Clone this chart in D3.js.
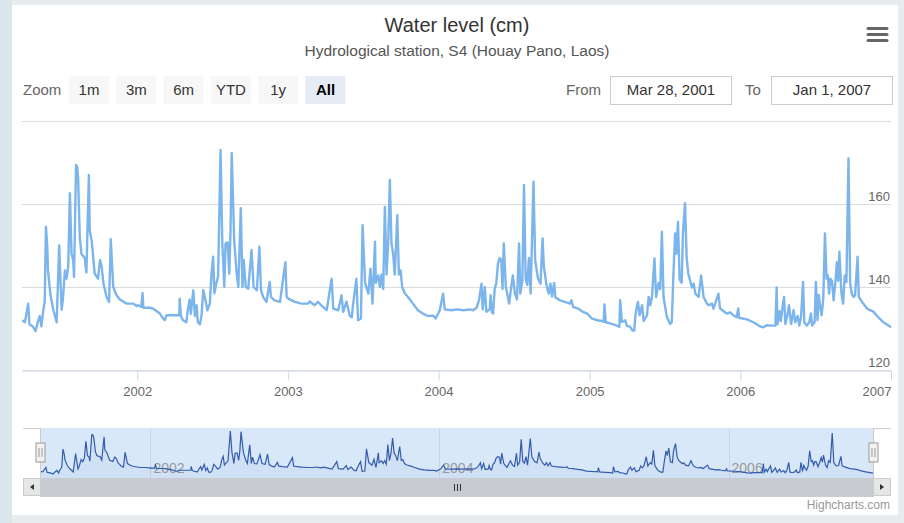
<!DOCTYPE html>
<html>
<head>
<meta charset="utf-8">
<script src="https://cdn.jsdelivr.net/npm/d3@7"></script>
<style>
  html, body { margin: 0; padding: 0; background: #e9ecee; }
  svg { display: block; font-family: "Liberation Sans", Arial, Helvetica, sans-serif; }
</style>
</head>
<body>
<script>
(function () {
  'use strict';

  // ---- data ----
  const chartTitle = "Water level (cm)";
  const chartSubtitle = "Hydrological station, S4 (Houay Pano, Laos)";
  const rangeFrom = "2001-03-28";
  const rangeTo = "2007-01-01";
  const rangeFromLabel = "Mar 28, 2001";
  const rangeToLabel = "Jan 1, 2007";
  const zoomButtons = ["1m", "3m", "6m", "YTD", "1y", "All"];
  const selectedButton = "All";
  const yTicks = [120, 140, 160, 180];
  const xTickYears = [2002, 2003, 2004, 2005, 2006, 2007];
  const navTickYears = [2002, 2004, 2006];

  const level2001 = [["2001-03-28",132],["2001-04-04",131.5],["2001-04-12",136],["2001-04-15",131],["2001-04-23",130.5],["2001-04-30",129.4],["2001-05-05",131.5],["2001-05-10",133],["2001-05-14",130.5],["2001-05-18",134],["2001-05-22",136.5],["2001-05-25",154.5],["2001-05-28",150],["2001-05-30",144],["2001-06-05",138],["2001-06-12",134.4],["2001-06-20",131.5],["2001-06-26",150],["2001-07-02",134.5],["2001-07-05",137],["2001-07-10",144],["2001-07-14",142],["2001-07-18",145],["2001-07-22",162.6],["2001-07-26",148],["2001-07-30",146.5],["2001-08-01",142.4],["2001-08-06",169.4],["2001-08-09",168.8],["2001-08-11",166],["2001-08-15",152],["2001-08-19",148],["2001-08-27",147],["2001-08-31",143.5],["2001-09-06",167],["2001-09-08",153.7],["2001-09-13",151],["2001-09-20",143.3],["2001-09-28",142],["2001-10-03",146.5],["2001-10-07",145],["2001-10-11",141],["2001-10-19",137.6],["2001-10-25",136.4],["2001-10-29",151.5],["2001-11-04",140],["2001-11-12",138],["2001-11-20",137],["2001-12-06",136],["2001-12-22",136],["2001-12-31",135.4]];

  const level2002 = [["2002-01-03",135.6],["2002-01-11",135.2],["2002-01-14",138.5],["2002-01-16",135],["2002-02-01",135],["2002-02-08",134.8],["2002-02-25",133.6],["2002-03-05",132.4],["2002-03-09",132],["2002-03-13",133.2],["2002-03-29",133.2],["2002-04-13",133.2],["2002-04-14",137.2],["2002-04-17",133],["2002-04-22",132],["2002-04-30",131.5],["2002-05-03",134],["2002-05-08",137],["2002-05-11",133.5],["2002-05-17",139.2],["2002-05-21",133],["2002-05-25",135.6],["2002-05-28",131.5],["2002-06-02",131],["2002-06-06",133.2],["2002-06-10",139.2],["2002-06-14",137.6],["2002-06-20",134.4],["2002-06-26",136],["2002-06-30",143.2],["2002-07-04",147.3],["2002-07-07",138.5],["2002-07-12",141],["2002-07-16",142.5],["2002-07-22",173],["2002-07-26",151.3],["2002-07-31",140],["2002-08-03",150.5],["2002-08-08",150.8],["2002-08-12",143.2],["2002-08-15",153],["2002-08-18",172.3],["2002-08-24",151.3],["2002-08-30",143.2],["2002-09-03",140],["2002-09-09",159],["2002-09-13",140],["2002-09-16",146.5],["2002-09-21",140],["2002-09-27",139.6],["2002-10-05",148.9],["2002-10-10",140],["2002-10-18",139.2],["2002-10-24",149.7],["2002-10-28",139.2],["2002-11-02",137.6],["2002-11-10",136.4],["2002-11-18",141.2],["2002-11-21",137.6],["2002-11-30",136.8],["2002-12-13",136.4],["2002-12-26",146],["2002-12-29",137.6]];

  const level2003 = [["2003-01-02",137.2],["2003-01-18",136.4],["2003-02-03",136],["2003-02-19",136],["2003-02-23",136.5],["2003-03-07",135.6],["2003-03-15",136.4],["2003-03-23",135.6],["2003-04-05",134.4],["2003-04-17",142],["2003-04-21",134.8],["2003-05-03",134.4],["2003-05-11",138],["2003-05-15",134],["2003-05-23",136.5],["2003-05-31",133],["2003-06-05",132.7],["2003-06-07",135],["2003-06-16",142],["2003-06-20",132],["2003-06-27",132.4],["2003-07-01",154.9],["2003-07-07",141],["2003-07-15",138.4],["2003-07-20",144.4],["2003-07-25",136],["2003-07-31",150.9],["2003-08-02",141],["2003-08-08",142.8],["2003-08-12",140],["2003-08-16",143],["2003-08-20",139.5],["2003-08-24",159.3],["2003-08-28",143],["2003-09-01",150.5],["2003-09-05",165.8],["2003-09-09",150.5],["2003-09-13",148],["2003-09-17",143],["2003-09-23",157.3],["2003-09-27",143],["2003-10-01",144],["2003-10-05",140],["2003-10-11",138.5],["2003-10-19",137.6],["2003-10-31",136],["2003-11-12",134.4],["2003-11-24",133.6],["2003-12-06",133],["2003-12-19",133.1],["2003-12-25",132.4]];

  const level2004 = [["2004-01-04",134.4],["2004-01-12",138.4],["2004-01-16",134.6],["2004-02-01",134.4],["2004-02-14",134.6],["2004-03-01",134.4],["2004-03-17",134.6],["2004-03-25",134.4],["2004-04-02",135],["2004-04-08",136.8],["2004-04-14",140.8],["2004-04-17",134.6],["2004-04-22",140],["2004-04-26",134],["2004-05-04",134.6],["2004-05-06",138],["2004-05-09",134],["2004-05-12",133.6],["2004-05-16",139.5],["2004-05-20",141],["2004-05-24",145.7],["2004-05-28",147],["2004-06-01",146.5],["2004-06-04",139.5],["2004-06-07",150.5],["2004-06-12",140],["2004-06-20",136],["2004-06-23",138.4],["2004-06-29",142.8],["2004-07-04",138.4],["2004-07-09",137],["2004-07-14",150.5],["2004-07-17",138.4],["2004-07-22",141.5],["2004-07-26",164.6],["2004-07-30",142],["2004-08-03",140.5],["2004-08-07",147],["2004-08-11",138.4],["2004-08-18",165.4],["2004-08-22",146.5],["2004-08-29",142],["2004-09-04",140.8],["2004-09-09",151.7],["2004-09-12",145],["2004-09-18",140.8],["2004-09-22",139],["2004-09-24",138.4],["2004-09-28",140.8],["2004-10-02",137.7],["2004-10-07",141],["2004-10-10",137.5],["2004-10-21",136.8],["2004-11-02",136.4],["2004-11-14",136],["2004-11-18",136.8],["2004-11-22",135.2],["2004-12-04",134.8],["2004-12-16",134],["2004-12-26",133.6]];

  const level2005 = [["2005-01-07",132.4],["2005-01-19",132],["2005-01-31",131.8],["2005-02-04",131.6],["2005-02-06",135.8],["2005-02-09",131.5],["2005-02-24",131.1],["2005-03-08",130.7],["2005-03-14",130.4],["2005-03-16",136.8],["2005-03-20",131.6],["2005-03-28",132],["2005-04-01",130.7],["2005-04-09",130.4],["2005-04-15",129.5],["2005-04-19",129.5],["2005-04-22",133.2],["2005-04-26",135.6],["2005-04-28",136.4],["2005-05-02",133.2],["2005-05-08",135.6],["2005-05-12",131.8],["2005-05-20",133.2],["2005-05-24",137.6],["2005-05-28",135.6],["2005-06-01",137.6],["2005-06-07",146.9],["2005-06-11",137.6],["2005-06-17",141],["2005-06-21",139.5],["2005-06-25",153.3],["2005-06-29",137.6],["2005-07-07",132.8],["2005-07-15",131.1],["2005-07-19",131.5],["2005-07-23",143.2],["2005-07-27",152.9],["2005-07-30",148],["2005-08-03",155.7],["2005-08-07",141.8],["2005-08-12",141],["2005-08-15",152.9],["2005-08-20",160.2],["2005-08-24",147],["2005-08-28",143.2],["2005-09-06",139.9],["2005-09-10",140.8],["2005-09-14",138.4],["2005-09-22",137.6],["2005-09-28",142.8],["2005-10-04",137.6],["2005-10-12",136],["2005-10-17",135.6],["2005-10-24",136],["2005-10-28",134.8],["2005-11-09",138.4],["2005-11-13",134.8],["2005-11-29",133.6],["2005-12-07",133.9],["2005-12-15",133.2],["2005-12-23",132.7],["2005-12-27",134.8],["2005-12-29",132.6]];

  const level2006 = [["2006-01-17",132.2],["2006-02-02",131.5],["2006-02-18",130.5],["2006-02-26",130.3],["2006-03-06",130.8],["2006-03-19",130.7],["2006-03-27",130.7],["2006-03-30",139.9],["2006-04-01",131],["2006-04-06",134.2],["2006-04-09",131.8],["2006-04-13",135],["2006-04-17",137.6],["2006-04-20",131.1],["2006-04-24",132.7],["2006-04-29",135.6],["2006-05-04",131.1],["2006-05-10",134.4],["2006-05-14",131.5],["2006-05-20",133],["2006-05-24",130.7],["2006-05-28",132.7],["2006-06-02",141.2],["2006-06-05",131.5],["2006-06-11",130.7],["2006-06-17",131.5],["2006-06-21",133.6],["2006-06-24",130.7],["2006-06-30",131.5],["2006-07-03",141.2],["2006-07-07",132],["2006-07-10",138.1],["2006-07-13",135.6],["2006-07-17",133.2],["2006-07-21",137.2],["2006-07-25",152.9],["2006-07-29",142],["2006-08-01",142.8],["2006-08-04",138.4],["2006-08-07",142],["2006-08-11",141.5],["2006-08-15",136.8],["2006-08-19",140.8],["2006-08-23",146],["2006-08-26",141.5],["2006-08-29",148.5],["2006-09-03",138.4],["2006-09-07",136],["2006-09-11",142.8],["2006-09-15",141.2],["2006-09-20",171],["2006-09-24",141],["2006-09-28",138.4],["2006-10-02",137.6],["2006-10-06",138],["2006-10-12",147.3],["2006-10-15",137.6],["2006-10-23",136.4],["2006-11-04",134.8],["2006-11-20",134],["2006-12-02",132.6],["2006-12-14",131.5],["2007-01-01",130.3]];

  // ---- setup ----
  const width = 904, height = 523;
  const parse = d3.timeParse("%Y-%m-%d");
  const data = [].concat(level2001, level2002, level2003, level2004, level2005, level2006)
    .map(d => ({ date: parse(d[0]), value: d[1] }));

  const plot = { left: 22, right: 891, top: 121, bottom: 370 };
  const nav = { left: 40, right: 873, top: 428, bottom: 478, scrollBottom: 496 };

  const svg = d3.select('body')
    .append('svg')
    .attr('width', width)
    .attr('height', height);

  // page background + white card
  svg.append('rect').attr('width', width).attr('height', height).attr('fill', '#e9ecee');
  svg.append('rect').attr('width', 12).attr('height', height).attr('fill', '#dbe6ec');
  svg.append('rect').attr('x', 12).attr('y', 5).attr('width', 886).attr('height', 510).attr('fill', '#fff');

  // titles
  svg.append('text').attr('x', 457).attr('y', 32).attr('text-anchor', 'middle')
    .attr('font-size', '20px').attr('fill', '#333').text(chartTitle);
  svg.append('text').attr('x', 457).attr('y', 56).attr('text-anchor', 'middle')
    .attr('font-size', '15.5px').attr('fill', '#555').text(chartSubtitle);

  // context menu button
  svg.append('g').selectAll('line')
    .data([28.5, 34.5, 40.5])
    .enter().append('line')
    .attr('x1', 868).attr('x2', 887)
    .attr('y1', d => d).attr('y2', d => d)
    .attr('stroke', '#666').attr('stroke-width', 3).attr('stroke-linecap', 'round');

  // range selector
  svg.append('text').attr('x', 23).attr('y', 95).attr('font-size', '15px')
    .attr('fill', '#666').text('Zoom');

  const btn = d3.scaleBand().domain(zoomButtons).range([69, 345.5]).paddingInner(0.154);
  const btnG = svg.append('g').selectAll('g')
    .data(zoomButtons)
    .enter().append('g')
    .attr('transform', d => `translate(${btn(d)},76)`);
  btnG.append('rect')
    .attr('width', btn.bandwidth()).attr('height', 28)
    .attr('fill', d => d === selectedButton ? '#e6ebf5' : '#f7f7f7');
  btnG.append('text')
    .attr('x', btn.bandwidth() / 2).attr('y', 19)
    .attr('text-anchor', 'middle').attr('font-size', '15px')
    .attr('font-weight', d => d === selectedButton ? 'bold' : 'normal')
    .attr('fill', d => d === selectedButton ? '#000' : '#333')
    .text(d => d);

  svg.append('text').attr('x', 566).attr('y', 95).attr('font-size', '15px').attr('fill', '#666').text('From');
  svg.append('text').attr('x', 745).attr('y', 95).attr('font-size', '15px').attr('fill', '#666').text('To');
  [[610.5, rangeFromLabel], [771.5, rangeToLabel]].forEach(([bx, label]) => {
    svg.append('rect').attr('x', bx).attr('y', 76.5).attr('width', 121).attr('height', 28)
      .attr('fill', '#fff').attr('stroke', '#ccc');
    svg.append('text').attr('x', bx + 60.5).attr('y', 95).attr('text-anchor', 'middle')
      .attr('font-size', '15px').attr('fill', '#333').text(label);
  });

  // ---- main plot ----
  const x = d3.scaleTime().domain([parse(rangeFrom), parse(rangeTo)]).range([plot.left, plot.right]);
  const y = d3.scaleLinear().domain([120, 180]).range([plot.bottom, plot.top]);

  svg.append('g').selectAll('line')
    .data(yTicks)
    .enter().append('line')
    .attr('x1', plot.left).attr('x2', plot.right)
    .attr('y1', d => Math.round(y(d)) + 0.5).attr('y2', d => Math.round(y(d)) + 0.5)
    .attr('stroke', '#dcdcdc');

  // last label hidden like the stock chart does
  svg.append('g').selectAll('text')
    .data(yTicks.slice(0, -1))
    .enter().append('text')
    .attr('x', plot.right - 1).attr('y', d => y(d) - 3)
    .attr('text-anchor', 'end').attr('font-size', '13px').attr('fill', '#666')
    .text(d => d);

  const xAxis = d3.axisBottom(x)
    .tickValues(xTickYears.map(yr => new Date(yr, 0, 1)))
    .tickFormat(d3.timeFormat('%Y'))
    .tickSize(10).tickSizeOuter(0).tickPadding(6);

  const axisG = svg.append('g')
    .attr('transform', `translate(0,${plot.bottom + 0.5})`)
    .call(xAxis);
  axisG.attr('font-family', null);
  axisG.select('.domain').attr('stroke', '#ccd6eb');
  axisG.selectAll('.tick line').attr('stroke', '#ccd6eb');
  axisG.selectAll('.tick text')
    .attr('font-size', '13px').attr('fill', '#666')
    .each(function (d) {
      const w = this.getComputedTextLength();
      if (x(d) + w / 2 > plot.right) d3.select(this).attr('text-anchor', 'end');
    });

  svg.append('clipPath').attr('id', 'plotClip')
    .append('rect').attr('x', plot.left).attr('y', plot.top - 5)
    .attr('width', plot.right - plot.left + 1).attr('height', plot.bottom - plot.top + 5);

  const line = d3.line().x(d => x(d.date)).y(d => y(d.value));
  svg.append('path')
    .datum(data)
    .attr('clip-path', 'url(#plotClip)')
    .attr('d', line)
    .attr('fill', 'none')
    .attr('stroke', '#7cb5ec')
    .attr('stroke-width', 2.4)
    .attr('stroke-linejoin', 'round');

  // ---- navigator ----
  const nx = d3.scaleTime().domain(x.domain()).range([nav.left, nav.right]);
  const ny = d3.scaleLinear().domain(d3.extent(data, d => d.value)).range([474, 431]);

  svg.append('rect')
    .attr('x', nav.left).attr('y', nav.top)
    .attr('width', nav.right - nav.left).attr('height', nav.bottom - nav.top)
    .attr('fill', 'rgba(128,179,236,0.3)');

  const navYears = navTickYears.map(yr => new Date(yr, 0, 1));
  svg.append('g').selectAll('line')
    .data(navYears)
    .enter().append('line')
    .attr('x1', d => Math.round(nx(d)) + 0.5).attr('x2', d => Math.round(nx(d)) + 0.5)
    .attr('y1', nav.top).attr('y2', nav.bottom)
    .attr('stroke', 'rgba(0,0,0,0.08)');
  svg.append('g').selectAll('text')
    .data(navYears)
    .enter().append('text')
    .attr('x', d => nx(d) + 3).attr('y', 473)
    .attr('font-size', '14px').attr('fill', '#999')
    .text(d3.timeFormat('%Y'));

  svg.append('path')
    .datum(data)
    .attr('d', d3.area().x(d => nx(d.date)).y0(nav.bottom).y1(d => ny(d.value)))
    .attr('fill', '#335cad').attr('fill-opacity', 0.05);
  svg.append('path')
    .datum(data)
    .attr('d', d3.line().x(d => nx(d.date)).y(d => ny(d.value)))
    .attr('fill', 'none').attr('stroke', '#335cad').attr('stroke-width', 1.2);

  // scrollbar
  const sb = svg.append('g');
  sb.append('rect').attr('x', 23).attr('y', nav.bottom).attr('width', plot.right - 23)
    .attr('height', nav.scrollBottom - nav.bottom).attr('fill', '#f2f2f2');
  sb.append('rect').attr('x', nav.left).attr('y', nav.bottom).attr('width', nav.right - nav.left)
    .attr('height', nav.scrollBottom - nav.bottom).attr('fill', '#c8cbd0');
  [[23.5, -1], [nav.right + 0.5, 1]].forEach(([bx, dir]) => {
    sb.append('rect').attr('x', bx).attr('y', nav.bottom + 0.5).attr('width', 17)
      .attr('height', nav.scrollBottom - nav.bottom - 1)
      .attr('fill', '#e6e6e6').attr('stroke', '#cccccc');
    const cx = bx + 8.5, cy = (nav.bottom + nav.scrollBottom) / 2;
    sb.append('path')
      .attr('d', `M${cx - 2 * dir},${cy - 3}L${cx - 2 * dir},${cy + 3}L${cx + 2 * dir},${cy}Z`)
      .attr('fill', '#333');
  });
  const mid = Math.round((nav.left + nav.right) / 2) + 0.5;
  sb.selectAll('line.rifle')
    .data([-3, 0, 3])
    .enter().append('line')
    .attr('x1', d => mid + d).attr('x2', d => mid + d)
    .attr('y1', 484).attr('y2', 491)
    .attr('stroke', '#333');

  // outline
  svg.append('path')
    .attr('d', `M23,${nav.top + 0.5}L${nav.left + 0.5},${nav.top + 0.5}L${nav.left + 0.5},${nav.scrollBottom + 0.5}` +
      `L${nav.right + 0.5},${nav.scrollBottom + 0.5}L${nav.right + 0.5},${nav.top + 0.5}L${plot.right},${nav.top + 0.5}`)
    .attr('fill', 'none').attr('stroke', '#cccccc');

  // handles
  [nav.left, nav.right].forEach(hx => {
    const g = svg.append('g').attr('transform', `translate(${hx + 0.5},443)`);
    g.append('rect').attr('x', -4.5).attr('y', 0).attr('width', 9).attr('height', 19)
      .attr('fill', '#f2f2f2').attr('stroke', '#999');
    g.selectAll('line').data([-1.5, 1.5]).enter().append('line')
      .attr('x1', d => d).attr('x2', d => d).attr('y1', 5).attr('y2', 14)
      .attr('stroke', '#999');
  });

  // credits
  svg.append('text').attr('x', 890).attr('y', 509).attr('text-anchor', 'end')
    .attr('font-size', '12px').attr('fill', '#999').text('Highcharts.com');
})();
</script>
</body>
</html>
